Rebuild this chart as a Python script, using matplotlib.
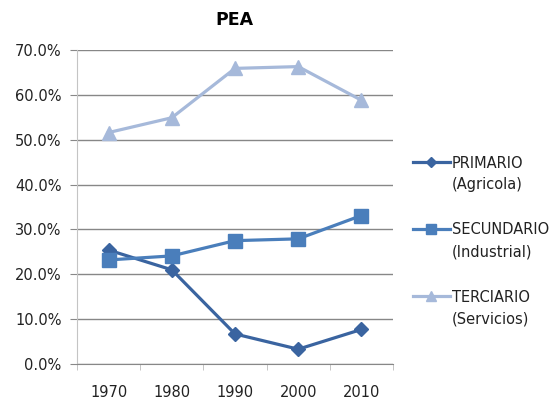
import matplotlib
matplotlib.use("Agg")
import matplotlib.pyplot as plt
from matplotlib.ticker import FuncFormatter, FixedLocator

plt.rcParams['font.family'] = ['DejaVu Sans']

years = ["1970", "1980", "1990", "2000", "2010"]
primario = [25.4, 21.0, 6.7, 3.3, 7.7]
secundario = [23.2, 24.1, 27.5, 27.9, 33.1]
terciario = [51.6, 54.9, 65.9, 66.3, 58.8]
series_names = ["PRIMARIO", "SECUNDARIO", "TERCIARIO"]
series_sub = ["(Agricola)", "(Industrial)", "(Servicios)"]

W, H = 556, 403
fig = plt.figure(figsize=(W/100, H/100), dpi=100)
ax = fig.add_axes([77/W, 1-364/H, (393-77)/W, (364-50)/H])

x = list(range(1, len(years)+1))
l1, = ax.plot(x, primario, color="#3A64A0", lw=2.3, marker="D", ms=7, label=series_names[0])
l2, = ax.plot(x, secundario, color="#4A7EBB", lw=2.3, marker="s", ms=9.5, label=series_names[1])
l3, = ax.plot(x, terciario, color="#A6B9DA", lw=2.3, marker="^", ms=10, label=series_names[2])

ax.set_xlim(0.5, 5.5)
ax.set_ylim(0, 70)
ax.set_yticks(range(0, 71, 10))
ax.yaxis.set_major_formatter(FuncFormatter(lambda v, p: f"{v:.1f}%"))
ax.set_xticks(x)
ax.set_xticklabels(years)
ax.xaxis.set_minor_locator(FixedLocator([0.5, 1.5, 2.5, 3.5, 4.5, 5.5]))
ax.tick_params(axis='x', which='major', length=0, pad=15, labelsize=10.5, colors="#222222")
ax.tick_params(axis='x', which='minor', length=4, color="#BBBBBB", direction='out')
ax.tick_params(axis='y', length=5, color="#888888", labelsize=10.5, labelcolor="#222222", pad=6)
ax.grid(axis='y', color="#878787", lw=1)
ax.set_axisbelow(True)
for s in ['top', 'right']:
    ax.spines[s].set_visible(False)
ax.spines['left'].set_color("#C4C4C4")
ax.spines['bottom'].set_color("#878787")

fig.text(234/W, 1-20/H, "PEA", ha='center', va='center', fontsize=12.5, fontweight='bold')

fs = 10.5
def make_legend(ax_x, ax_y, spacing):
    return fig.legend(handles=[l1, l2, l3], loc='upper left', bbox_to_anchor=(ax_x, ax_y),
                      frameon=False, fontsize=fs, handlelength=2.55, handletextpad=0.15,
                      labelspacing=spacing, markerscale=0.75, borderpad=0, borderaxespad=0,
                      labelcolor="#222222")

bx, by, sp = 405/W, 1-150/H, 3.4
leg = make_legend(bx, by, sp)
fig.canvas.draw()
r = fig.canvas.get_renderer()
texts = leg.get_texts()
e0 = texts[0].get_window_extent(r)
e1 = texts[1].get_window_extent(r)
cy0 = H - (e0.y0 + e0.y1)/2
cy1 = H - (e1.y0 + e1.y1)/2
sp = sp + (67 - (cy1 - cy0)) / (fs*100/72)
leg.remove()
leg = make_legend(bx, by, sp)
fig.canvas.draw()
e0 = leg.get_texts()[0].get_window_extent(r)
dx = 452 - e0.x0
dy = (H - (e0.y0 + e0.y1)/2) - 163
leg.remove()
leg = make_legend(bx + dx/W, by + dy/H, sp)
fig.canvas.draw()
for t, sub in zip(leg.get_texts(), series_sub):
    e = t.get_window_extent(r)
    cy = (e.y0 + e.y1)/2 - 22
    fig.text(e.x0/W, cy/H, sub, ha='left', va='center', fontsize=fs, color="#222222")

fig.savefig("out.png", dpi=100)
